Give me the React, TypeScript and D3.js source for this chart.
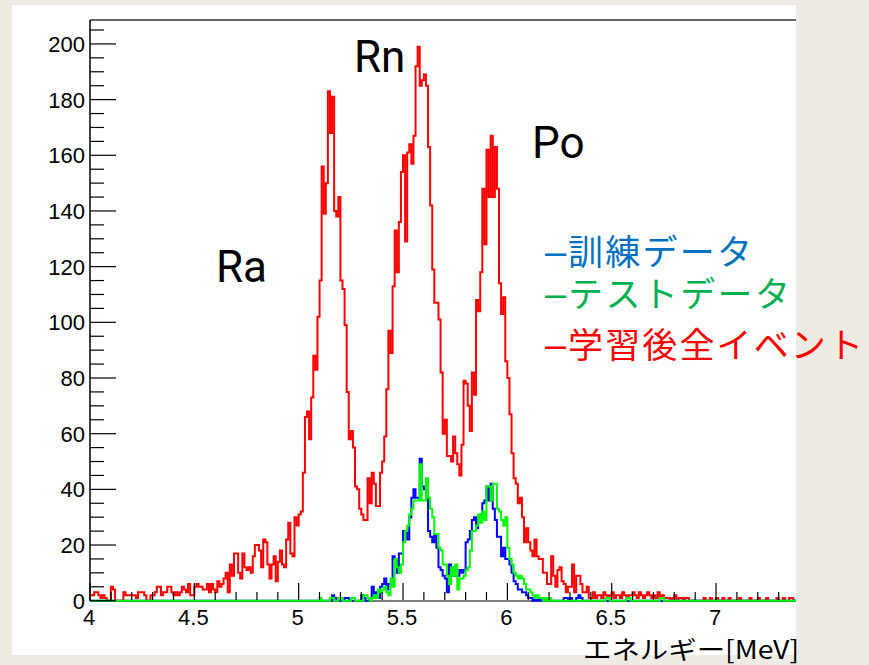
import React from "react";
import * as d3 from "d3";

// ---- data (bin width 0.01 MeV, starting at 4.00 MeV) ----
const BIN_WIDTH = 0.01;
const RED_START = 4.0;
const redCounts: number[] = [
  2, 2, 3, 3, 2, 1, 2, 1, 0, 0,
  5, 4, 0, 0, 0, 0, 3, 2, 2, 2,
  2, 2, 1, 3, 3, 3, 2, 0, 0, 2,
  2, 3, 5, 5, 2, 3, 3, 5, 5, 3,
  2, 3, 2, 3, 5, 4, 3, 6, 2, 2,
  5, 6, 5, 5, 4, 4, 6, 3, 6, 4,
  3, 7, 5, 6, 8, 10, 3, 13, 9, 17,
  17, 10, 8, 17, 12, 11, 12, 10, 16, 20,
  20, 18, 12, 22, 21, 13, 8, 13, 16, 7,
  14, 18, 13, 12, 22, 28, 17, 16, 30, 27,
  31, 32, 46, 66, 68, 58, 73, 88, 83, 102,
  115, 156, 139, 150, 183, 168, 181, 140, 138, 145,
  115, 112, 99, 75, 58, 61, 55, 41, 40, 33,
  31, 29, 29, 44, 35, 46, 42, 34, 34, 46,
  50, 59, 76, 97, 89, 113, 133, 118, 136, 154,
  160, 129, 161, 164, 157, 167, 192, 199, 185, 187,
  189, 185, 163, 142, 119, 107, 107, 101, 82, 60,
  65, 52, 52, 50, 59, 53, 49, 45, 56, 79,
  78, 70, 61, 82, 74, 108, 104, 118, 148, 128,
  162, 145, 167, 145, 163, 148, 114, 103, 109, 86,
  80, 67, 53, 44, 42, 35, 37, 30, 21, 26,
  21, 18, 16, 22, 16, 15, 15, 10, 10, 6,
  6, 16, 9, 5, 11, 12, 7, 6, 3, 5,
  5, 13, 3, 9, 9, 6, 3, 3, 5, 1,
  1, 3, 1, 2, 2, 1, 3, 2, 1, 2,
  3, 1, 2, 2, 1, 3, 2, 1, 2, 2,
  3, 2, 1, 3, 2, 1, 2, 3, 2, 1,
  2, 1, 3, 1, 2, 1, 1, 1, 0, 1,
  2, 0, 1, 1, 0, 1, 1, 0, 0, 0,
  0, 0, 0, 0, 1, 0, 0, 1, 0, 0,
  1, 0, 0, 1, 0, 0, 1, 0, 0, 0,
  0, 1, 0, 0, 0, 0, 1, 0, 0, 0,
  1, 0, 0, 0, 1, 0, 0, 0, 0, 1,
  0, 0, 1, 0, 0, 1, 1, 0, 0, 0,
];

const SUB_START = 5.1;
const blueCounts: number[] = [
  0, 0, 0, 0, 0, 0, 2, 1, 0, 0,
  0, 0, 1, 1, 0, 0, 0, 0, 0, 0,
  2, 1, 0, 0, 1, 5, 2, 3, 1, 5,
  6, 8, 4, 6, 6, 16, 15, 10, 17, 17,
  25, 25, 22, 30, 37, 40, 37, 37, 51, 41,
  40, 37, 25, 23, 21, 24, 19, 12, 11, 9,
  8, 3, 13, 9, 12, 9, 9, 11, 10, 11,
  21, 22, 25, 29, 30, 26, 30, 31, 35, 36,
  41, 36, 42, 33, 29, 23, 23, 16, 19, 15,
  15, 13, 10, 7, 6, 4, 4, 3, 3, 2,
  1, 1, 0, 1, 0, 1, 0, 0, 1, 0,
  0, 0, 0, 0, 0, 0, 0, 1, 1, 0,
  1, 0, 0, 1, 2, 1, 0, 0, 0, 0,
];
const greenCounts: number[] = [
  1, 0, 0, 0, 0, 1, 1, 0, 0, 1,
  1, 0, 0, 0, 0, 1, 1, 0, 0, 0,
  0, 2, 2, 1, 0, 1, 2, 1, 4, 3,
  4, 5, 3, 2, 8, 5, 15, 12, 10, 13,
  21, 25, 27, 31, 33, 36, 36, 36, 49, 36,
  36, 44, 37, 33, 30, 24, 24, 19, 18, 13,
  13, 9, 6, 12, 9, 13, 4, 8, 8, 9,
  11, 12, 18, 25, 25, 27, 31, 28, 32, 29,
  41, 41, 36, 42, 42, 33, 32, 29, 27, 30,
  19, 15, 13, 10, 9, 8, 9, 8, 6, 4,
  4, 3, 2, 1, 2, 1, 1, 0, 1, 0,
  1, 0, 0, 0, 0, 0, 0, 0, 0, 0,
  0, 0, 0, 0, 0, 0, 0, 0, 0, 0,
  0, 0, 0, 0, 0, 0, 0, 1, 1, 0,
  0, 0, 0, 0, 0, 0, 0, 1, 1, 0,
  0, 0, 0, 0, 0, 0, 0, 0, 0, 0,
  0, 0, 0, 1, 1, 0, 0, 0, 0, 0,
];

const xTickValues = [4, 4.5, 5, 5.5, 6, 6.5, 7];
const xTickLabels = ["4", "4.5", "5", "5.5", "6", "6.5", "7"];
const yTickValues = [0, 20, 40, 60, 80, 100, 120, 140, 160, 180, 200];

const peakLabels = ["Ra", "Rn", "Po"];
const legendLabels = ["訓練データ", "テストデータ", "学習後全イベント"];
const xTitle = "エネルギー[MeV]";

// ---- layout ----
const W = 869;
const H = 665;
const X_DOMAIN: [number, number] = [4, 7.4];
const Y_DOMAIN: [number, number] = [0, 208.6];

const x = d3.scaleLinear().domain(X_DOMAIN).range([90, 799.5]);
const y = d3.scaleLinear().domain(Y_DOMAIN).range([600.7, 20]);

function histPoints(start: number, counts: number[], pad: boolean): [number, number][] {
  const pts: [number, number][] = [];
  if (pad) {
    for (let e = X_DOMAIN[0]; e < start - 1e-9; e += BIN_WIDTH) pts.push([e, 0]);
  }
  counts.forEach((c, i) => pts.push([start + i * BIN_WIDTH, c]));
  const last = start + counts.length * BIN_WIDTH;
  if (pad) {
    for (let e = last; e < X_DOMAIN[1] - 1e-9; e += BIN_WIDTH) pts.push([e, 0]);
    pts.push([X_DOMAIN[1], 0]);
  } else {
    pts.push([last, counts[counts.length - 1]]);
  }
  return pts;
}

const line = d3
  .line<[number, number]>()
  .x((d) => x(d[0]))
  .y((d) => y(d[1]))
  .curve(d3.curveStepAfter);

const minorY = d3.range(0, 208.6, 5).filter((v) => v % 20 !== 0);
const minorX = d3.range(40, 74, 1).map((v) => v / 10).filter((v) => Math.round(v * 10) % 5 !== 0);

const LATIN = "'Liberation Sans', Arial, Helvetica, sans-serif";
const JP = "'Noto Sans CJK JP', 'Noto Sans', sans-serif";

export default function App() {
  const redPath = line(histPoints(RED_START, redCounts, false)) || "";
  const bluePath = line(histPoints(SUB_START, blueCounts, true)) || "";
  const greenPath = line(histPoints(SUB_START, greenCounts, true)) || "";
  const legendColors = ["#0070C0", "#00B050", "#FF0000"];
  const legendBase = [265, 307, 358];
  const legendLen = [184, 222, 295];
  const peakPos = [
    [216, 282],
    [354, 72],
    [532, 158],
  ];
  return (
    <svg
      width={W}
      height={H}
      style={{ position: "absolute", left: 0, top: 0, display: "block" }}
    >
      <defs>
        <clipPath id="plotclip">
          <rect x={89} y={15} width={707} height={592} />
        </clipPath>
      </defs>
      <rect x={0} y={0} width={W} height={H} fill="#EEEBE4" />
      <rect x={12} y={5} width={784} height={650} fill="#ffffff" />

      <g clipPath="url(#plotclip)">
        {/* frame */}
        <line x1={90} x2={800} y1={20} y2={20} stroke="#333" strokeWidth={1.5} />
        <line x1={90} x2={800} y1={601} y2={601} stroke="#000" strokeWidth={1.2} />
        <path d={redPath} fill="none" stroke="#ff0000" strokeWidth={2} />
        <path d={bluePath} fill="none" stroke="#0000ff" strokeWidth={2} />
        <path d={greenPath} fill="none" stroke="#00ff00" strokeWidth={2} />
        {/* x ticks */}
        {xTickValues.map((v) => (
          <line key={"xt" + v} x1={x(v)} x2={x(v)} y1={600} y2={583} stroke="#000" strokeWidth={1.2} />
        ))}
        {minorX.map((v) => (
          <line key={"xm" + v} x1={x(v)} x2={x(v)} y1={600} y2={592} stroke="#000" strokeWidth={1.2} />
        ))}
      </g>

      {/* y axis */}
      <line x1={90} x2={90} y1={20} y2={601} stroke="#000" strokeWidth={1.5} />
      {yTickValues.map((v) => (
        <line key={"yt" + v} x1={90} x2={116} y1={y(v)} y2={y(v)} stroke="#000" strokeWidth={1.2} />
      ))}
      {minorY.map((v) => (
        <line key={"ym" + v} x1={90} x2={104} y1={y(v)} y2={y(v)} stroke="#000" strokeWidth={1.2} />
      ))}
      {yTickValues.map((v) => (
        <text
          key={"yl" + v}
          x={85}
          y={y(v) + 8}
          textAnchor="end"
          fontFamily={LATIN}
          fontSize={22}
          fill="#000"
        >
          {String(v)}
        </text>
      ))}
      {xTickValues.map((v, i) => (
        <text
          key={"xl" + v}
          x={x(v) - 1}
          y={625}
          textAnchor="middle"
          fontFamily={LATIN}
          fontSize={22}
          fill="#000"
        >
          {xTickLabels[i]}
        </text>
      ))}

      {/* axis title */}
      <text x={583} y={659} fontFamily={JP} fontSize={25} fill="#000" textLength={216} lengthAdjust="spacingAndGlyphs">
        {xTitle}
      </text>

      {/* peak names */}
      {peakLabels.map((t, i) => (
        <text key={t} x={peakPos[i][0]} y={peakPos[i][1]} fontFamily="Roboto, 'Liberation Sans', sans-serif" fontSize={44} fill="#000">
          {t}
        </text>
      ))}

      {/* legend */}
      {legendLabels.map((t, i) => (
        <g key={t}>
          <text x={545} y={legendBase[i]} fontFamily={LATIN} fontSize={38} fill={legendColors[i]}>
            –
          </text>
          <text
            x={568}
            y={legendBase[i]}
            fontFamily={JP}
            fontSize={35}
            fill={legendColors[i]}
            textLength={legendLen[i]}
            lengthAdjust="spacing"
          >
            {t}
          </text>
        </g>
      ))}
    </svg>
  );
}
